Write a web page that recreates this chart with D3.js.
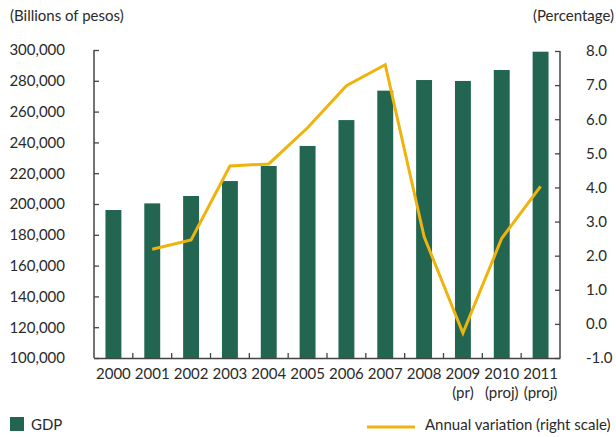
<!DOCTYPE html>
<html>
<head>
<meta charset="utf-8">
<script src="https://cdn.jsdelivr.net/npm/d3@7/dist/d3.min.js"></script>
<style>
  html, body { margin: 0; padding: 0; background: #fff; }
  svg text { font-family: Lato, "Open Sans", sans-serif; fill: #2a2a2a; }
</style>
</head>
<body>
<svg id="chart" width="616" height="437"></svg>
<script>
// GDP (billions of pesos) and annual variation (%)
const years = ["2000", "2001", "2002", "2003", "2004", "2005", "2006", "2007", "2008", "2009", "2010", "2011"];
const yearNotes = ["", "", "", "", "", "", "", "", "", "(pr)", "(proj)", "(proj)"];
const gdp = [196100, 200400, 205200, 214900, 224700, 237700, 254500, 273600, 280500, 279900, 287000, 298900];
const variation = [null, 2.19, 2.46, 4.63, 4.69, 5.75, 6.98, 7.6, 2.56, -0.27, 2.51, 4.03];
const leftTicks = [100000, 120000, 140000, 160000, 180000, 200000, 220000, 240000, 260000, 280000, 300000];
const rightTicks = [-1, 0, 1, 2, 3, 4, 5, 6, 7, 8];

const barColor = "#226652";
const lineColor = "#efb30e";
const fs = 15;

const svg = d3.select("#chart");
const m = { left: 94, right: 560, top: 50, bottom: 358 };

const x = d3.scaleBand().domain(years).range([m.left, m.right]).paddingInner(0.59).paddingOuter(0.295);
const band = d3.scaleBand().domain(years).range([m.left, m.right]);
const yL = d3.scaleLinear().domain([100000, 300000]).range([m.bottom, m.top]);
const yR = d3.scaleLinear().domain([-1, 8]).range([m.bottom, m.top + 1]);

// bars
svg.append("g").selectAll("rect").data(years).join("rect")
  .attr("x", d => x(d))
  .attr("width", x.bandwidth())
  .attr("y", (d, i) => yL(gdp[i]))
  .attr("height", (d, i) => m.bottom - yL(gdp[i]))
  .attr("fill", barColor);

// annual variation line
const pts = years.map((d, i) => [band(d) + band.bandwidth() / 2, variation[i]]).filter(p => p[1] !== null);
svg.append("path")
  .datum(pts)
  .attr("fill", "none")
  .attr("stroke", lineColor)
  .attr("stroke-width", 3)
  .attr("stroke-linejoin", "miter")
  .attr("d", d3.line().x(p => p[0]).y(p => yR(p[1])));

const fmt = d3.format(",");
const pctFmt = v => d3.format(".1f")(v).replace("\u2212", "-");
const axisColor = "#444";

// left axis
const gL = svg.append("g").attr("transform", `translate(${m.left},0)`)
  .call(d3.axisLeft(yL).tickValues(leftTicks).tickSize(-5).tickFormat(fmt).tickPadding(29));
gL.select(".domain").attr("stroke", axisColor).attr("stroke-width", 1.5).attr("d", `M0,${m.top}V${m.bottom}`);
gL.selectAll(".tick line").attr("stroke", axisColor).attr("stroke-width", 1.3);
gL.selectAll(".tick text").attr("font-size", fs).attr("fill", "#2a2a2a");

// right axis
const gR = svg.append("g").attr("transform", `translate(${m.right},0)`)
  .call(d3.axisRight(yR).tickValues(rightTicks).tickSize(-5).tickFormat(pctFmt).tickPadding(26));
gR.select(".domain").attr("stroke", axisColor).attr("stroke-width", 1.5).attr("d", `M0,${m.top + 1}V${m.bottom}`);
gR.selectAll(".tick line").attr("stroke", axisColor).attr("stroke-width", 1.3);
gR.selectAll(".tick text").attr("font-size", fs).attr("text-anchor", "start").attr("fill", "#2a2a2a");

// bottom axis
const gB = svg.append("g").attr("transform", `translate(0,${m.bottom})`)
  .call(d3.axisBottom(band).tickSize(0).tickPadding(10));
gB.select(".domain").attr("stroke", axisColor).attr("stroke-width", 1.5);
gB.selectAll(".tick text").attr("font-size", fs).attr("fill", "#2a2a2a");
gB.selectAll(".tick").append("text")
  .attr("y", 40).attr("text-anchor", "middle").attr("font-size", fs).attr("fill", "#2a2a2a")
  .text((d, i) => yearNotes[i]);
// band separators
gB.append("g").selectAll("line").data(years.slice(1)).join("line")
  .attr("x1", d => band(d)).attr("x2", d => band(d))
  .attr("y1", 0).attr("y2", -5)
  .attr("stroke", axisColor).attr("stroke-width", 1.3);

// unit labels
svg.append("text").attr("x", 10).attr("y", 21).attr("font-size", fs).text("(Billions of pesos)");
svg.append("text").attr("x", 614).attr("y", 21).attr("text-anchor", "end").attr("font-size", fs).text("(Percentage)");

// legend
svg.append("rect").attr("x", 10).attr("y", 417).attr("width", 14).attr("height", 14).attr("fill", barColor);
svg.append("text").attr("x", 31).attr("y", 430).attr("font-size", fs).text("GDP");
svg.append("line").attr("x1", 367).attr("x2", 415).attr("y1", 427).attr("y2", 427)
  .attr("stroke", lineColor).attr("stroke-width", 3);
svg.append("text").attr("x", 425).attr("y", 430).attr("font-size", fs).text("Annual variation (right scale)");
</script>
</body>
</html>
